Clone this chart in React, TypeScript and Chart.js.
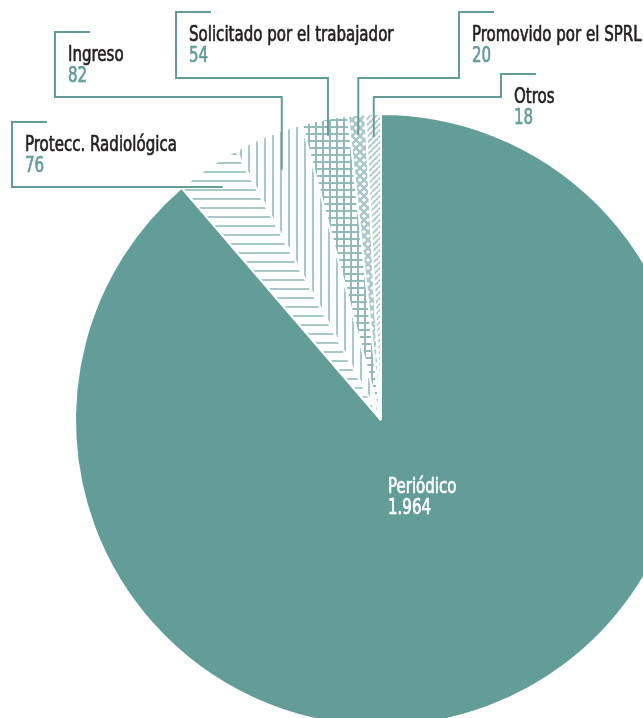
import React, { useEffect, useRef } from 'react';
import { Chart, registerables } from 'chart.js';

Chart.register(...registerables);

// ---- data ----
const categories = [
  'Periódico',
  'Protecc. Radiológica',
  'Ingreso',
  'Solicitado por el trabajador',
  'Promovido por el SPRL',
  'Otros',
];
const values = [1964, 76, 82, 54, 20, 18];

// ---- styles ----
const TEAL = '#629d98';
const HATCH = '#a9c9c6';
const GRID = '#92bab6';
const TEXT_DARK = '#231f20';
const FONT = '"DejaVu Sans Condensed", "Liberation Sans Narrow", sans-serif';
const FONT_SIZE = 22;
const X_SCALE = 0.76;

// pattern kind per slice (index aligned with categories)
const fills = ['solid', 'hlines', 'vlines', 'grid', 'cross', 'diag'];

// callout layout (label box geometry, not data)
const callouts = [
  { index: 1, boxX: 12, boxTop: 122, boxBottom: 187, depth: 0.92 },
  { index: 2, boxX: 55, boxTop: 32, boxBottom: 97, depth: 0.88 },
  { index: 3, boxX: 176, boxTop: 12, boxBottom: 78, depth: 0.945 },
  { index: 4, boxX: 459, boxTop: 12, boxBottom: 78, depth: 0.935 },
  { index: 5, boxX: 501, boxTop: 74, boxBottom: 97, depth: 0.925 },
];
const TICK = 35;
const TEXT_DX = 13;
const NAME_DY = 29;
const VALUE_DY = 50;

const fmt = (v: number) => String(v).replace(/\B(?=(\d{3})+(?!\d))/g, '.');

function makePattern(kind: string): CanvasPattern | string {
  if (kind === 'solid') return TEAL;
  const c = document.createElement('canvas');
  let w = 8;
  let h = 8;
  if (kind === 'hlines') { w = 4; h = 9; }
  if (kind === 'vlines') { w = 8; h = 4; }
  if (kind === 'grid') { w = 7; h = 7; }
  if (kind === 'cross') { w = 8; h = 8; }
  if (kind === 'diag') { w = 6; h = 6; }
  c.width = w;
  c.height = h;
  const g = c.getContext('2d')!;
  g.fillStyle = '#ffffff';
  g.fillRect(0, 0, w, h);
  if (kind === 'hlines') {
    g.fillStyle = HATCH;
    g.fillRect(0, 0, w, 2);
  } else if (kind === 'vlines') {
    g.fillStyle = HATCH;
    g.fillRect(0, 0, 2, h);
  } else if (kind === 'grid') {
    g.fillStyle = GRID;
    g.fillRect(0, 0, w, 2);
    g.fillRect(0, 0, 2, h);
  } else if (kind === 'cross') {
    g.strokeStyle = HATCH;
    g.lineWidth = 2.6;
    for (const o of [-w, 0, w]) {
      g.beginPath();
      g.moveTo(o, 0);
      g.lineTo(o + w, h);
      g.moveTo(o + w, 0);
      g.lineTo(o, h);
      g.stroke();
    }
  } else if (kind === 'diag') {
    g.strokeStyle = HATCH;
    g.lineWidth = 1.8;
    for (const o of [-w, 0, w]) {
      g.beginPath();
      g.moveTo(o, h);
      g.lineTo(o + w, 0);
      g.stroke();
    }
  }
  return g.createPattern(c, 'repeat')!;
}

function drawText(ctx: CanvasRenderingContext2D, text: string, x: number, y: number, color: string) {
  ctx.save();
  ctx.translate(x, y);
  ctx.scale(X_SCALE, 1);
  ctx.fillStyle = color;
  ctx.strokeStyle = color;
  ctx.lineWidth = 0.7;
  ctx.lineJoin = 'round';
  ctx.font = `${FONT_SIZE}px ${FONT}`;
  ctx.textBaseline = 'alphabetic';
  ctx.textAlign = 'left';
  ctx.fillText(text, 0, 0);
  ctx.strokeText(text, 0, 0);
  ctx.restore();
}

const calloutPlugin = {
  id: 'callouts',
  afterDatasetsDraw(chart: any) {
    const ctx: CanvasRenderingContext2D = chart.ctx;
    const meta = chart.getDatasetMeta(0);
    ctx.save();
    ctx.strokeStyle = TEAL;
    ctx.lineWidth = 2;
    ctx.lineCap = 'butt';
    ctx.lineJoin = 'miter';
    for (const co of callouts) {
      const arc = meta.data[co.index];
      const p = arc.getProps(['x', 'y', 'startAngle', 'endAngle', 'outerRadius'], true);
      const mid = (p.startAngle + p.endAngle) / 2;
      const ax = p.x + Math.cos(mid) * p.outerRadius * co.depth;
      const ay = p.y + Math.sin(mid) * p.outerRadius * co.depth;
      ctx.beginPath();
      ctx.moveTo(co.boxX + TICK, co.boxTop);
      ctx.lineTo(co.boxX, co.boxTop);
      ctx.lineTo(co.boxX, co.boxBottom);
      ctx.lineTo(ax, co.boxBottom);
      ctx.lineTo(ax, ay);
      ctx.stroke();
    }
    for (const co of callouts) {
      drawText(ctx, categories[co.index], co.boxX + TEXT_DX, co.boxTop + NAME_DY, TEXT_DARK);
      drawText(ctx, fmt(values[co.index]), co.boxX + TEXT_DX, co.boxTop + VALUE_DY, TEAL);
    }
    // inner label for the big slice
    const main = meta.data[0].getProps(['x', 'y'], true);
    drawText(ctx, categories[0], main.x + 7, main.y + 73, '#ffffff');
    drawText(ctx, fmt(values[0]), main.x + 7, main.y + 94, '#ffffff');
    ctx.restore();
  },
};

export default function App() {
  const ref = useRef<HTMLCanvasElement | null>(null);
  useEffect(() => {
    if (!ref.current) return;
    const chart = new Chart(ref.current, {
      type: 'pie',
      data: {
        labels: categories,
        datasets: [
          {
            data: values,
            backgroundColor: fills.map((k) => makePattern(k)) as any,
            borderColor: '#ffffff',
            borderWidth: 2,
          },
        ],
      },
      options: {
        responsive: false,
        animation: false,
        devicePixelRatio: 1,
        radius: 306,
        layout: { padding: { left: 75, right: 83, top: 114, bottom: 114 } },
        plugins: { legend: { display: false }, tooltip: { enabled: false } },
      } as any,
      plugins: [calloutPlugin],
    });
    return () => chart.destroy();
  }, []);
  return (
    <div
      style={{
        position: 'fixed',
        left: 0,
        top: 0,
        width: 643,
        height: 718,
        overflow: 'hidden',
        background: '#ffffff',
      }}
    >
      <canvas ref={ref} width={770} height={840} style={{ display: 'block', width: 770, height: 840 }} />
    </div>
  );
}
